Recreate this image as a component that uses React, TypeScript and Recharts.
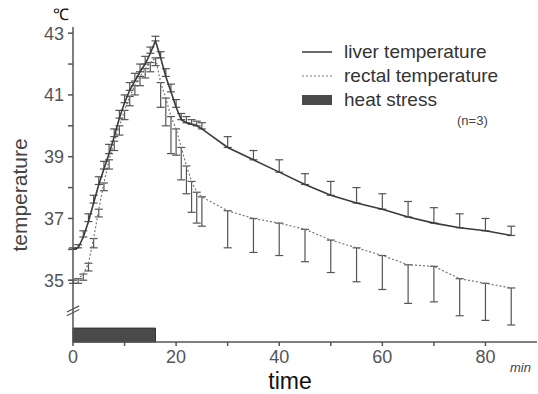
import {
  ComposedChart,
  ErrorBar,
  Line,
  ReferenceArea,
  ReferenceLine,
  XAxis,
  YAxis,
} from "recharts";

const times = [
  0, 1, 2, 3, 4, 5, 6, 7, 8, 9, 10, 11, 12, 13, 14, 15, 16, 17, 18, 19, 20, 21, 22, 23, 24, 25,
  30, 35, 40, 45, 50, 55, 60, 65, 70, 75, 80, 85,
];
const liverTemp = [
  36.0, 36.05, 36.4, 36.9, 37.5, 38.1, 38.6, 39.1, 39.65, 40.25, 40.75, 41.15, 41.45, 41.75, 42.0, 42.35, 42.75,
  42.2, 41.6, 41.1, 40.6, 40.2, 40.1, 40.05, 40.0, 39.9,
  39.3, 38.9, 38.5, 38.1, 37.75, 37.5, 37.3, 37.05, 36.85, 36.7, 36.6, 36.45,
];
const liverSd = [
  0.05, 0.1, 0.2, 0.25, 0.25, 0.25, 0.25, 0.3, 0.25, 0.25, 0.25, 0.25, 0.25, 0.25, 0.25, 0.2, 0.15,
  0.2, 0.25, 0.25, 0.25, 0.2, 0.2, 0.15, 0.15, 0.2,
  0.35, 0.3, 0.4, 0.35, 0.45, 0.5, 0.5, 0.5, 0.5, 0.45, 0.4, 0.3,
];
const rectalTemp = [
  35.0, 35.05, 35.2, 35.55, 36.35, 37.3, 38.15, 38.9, 39.5, 40.0, 40.5, 40.95, 41.3, 41.6, 41.85, 42.05, 42.2,
  41.4, 40.9, 40.3, 39.9, 39.3, 38.7, 38.2, 37.85, 37.7,
  37.25, 37.0, 36.85, 36.65, 36.3, 36.05, 35.8, 35.5, 35.45, 35.05, 34.9, 34.75,
];
const rectalSd = [
  0.1, 0.15, 0.2, 0.25, 0.3, 0.25, 0.25, 0.3, 0.3, 0.3, 0.3, 0.3, 0.3, 0.3, 0.3, 0.3, 0.25,
  0.8, 0.9, 1.2, 0.85, 1.05, 0.9, 1.0, 1.0, 0.95,
  1.2, 1.1, 1.05, 1.05, 1.05, 1.1, 1.1, 1.25, 1.15, 1.2, 1.2, 1.2,
];
const yTicks = [35, 36, 37, 38, 39, 40, 41, 42, 43];
const xTicks = [0, 10, 20, 30, 40, 50, 60, 70, 80];
const heatStress = [0, 16];

const font = "'Liberation Sans', Arial, sans-serif";
const ink = "#3a3a3a";

const data = times.map((t, i) => ({
  time: t,
  liver: liverTemp[i],
  rectal: rectalTemp[i],
  liverErr: [0, liverSd[i]],
  rectalErr: [rectalSd[i], 0],
}));

function LegendBox() {
  const row = { display: "flex", alignItems: "center", height: 24 } as const;
  const label = { marginLeft: 12, fontSize: 19, color: "#333" };
  return (
    <div style={{ position: "absolute", left: 302, top: 40, width: 236, fontFamily: font, lineHeight: "24px" }}>
      <div style={row}>
        <svg width={30} height={10}>
          <line x1={0} y1={5} x2={30} y2={5} stroke={ink} strokeWidth={1.5} />
        </svg>
        <span style={label}>liver temperature</span>
      </div>
      <div style={row}>
        <svg width={30} height={10}>
          <line x1={0} y1={5} x2={30} y2={5} stroke="#777" strokeWidth={1.2} strokeDasharray="2 2" />
        </svg>
        <span style={label}>rectal temperature</span>
      </div>
      <div style={row}>
        <svg width={30} height={10}>
          <rect x={0} y={0} width={30} height={10} fill="#4a4a4a" />
        </svg>
        <span style={label}>heat stress</span>
      </div>
      <div style={{ paddingLeft: 155, fontSize: 13, color: "#444", lineHeight: "18px" }}>(n=3)</div>
    </div>
  );
}

export default function App() {
  return (
    <div style={{ position: "absolute", left: 0, top: 0, width: 538, height: 394, background: "#fff" }}>
      <ComposedChart
        width={538}
        height={394}
        data={data}
        margin={{ top: 27, right: 1, bottom: 0, left: 0 }}
        style={{ fontFamily: font }}
      >
        <XAxis
          type="number"
          dataKey="time"
          domain={[0, 90]}
          ticks={xTicks}
          tickFormatter={(v: number) => (v % 20 === 0 ? String(v) : "")}
          height={52}
          tickSize={4}
          tickMargin={4}
          stroke="#555"
          strokeWidth={1.5}
          tick={{ fontSize: 18, fill: "#555" }}
          label={{
            content: () => (
              <text x={290} y={389} textAnchor="middle" fontSize={23} fill="#111" fontFamily={font}>
                time
              </text>
            ),
          }}
        />
        <YAxis
          type="number"
          domain={[33, 43.2]}
          ticks={yTicks}
          tickFormatter={(v: number) => (v % 2 === 1 ? String(v) : "")}
          width={73}
          tickSize={5}
          tickMargin={4}
          stroke="#555"
          strokeWidth={1.5}
          tick={{ fontSize: 18, fill: "#555" }}
          label={{
            content: () => (
              <text
                transform="translate(27,195) rotate(-90)"
                textAnchor="middle"
                fontSize={21}
                fill="#444"
                fontFamily={font}
              >
                temperature
              </text>
            ),
          }}
        />
        <ReferenceArea x1={heatStress[0]} x2={heatStress[1]} y1={33} y2={33.45} fill="#4a4a4a" fillOpacity={1} stroke="#333" />
        <ReferenceLine
          segment={[{ x: -1.2, y: 33.85 }, { x: 1.2, y: 34.05 }]}
          stroke="#555"
          strokeWidth={1.2}
          ifOverflow="visible"
        />
        <ReferenceLine
          segment={[{ x: -1.2, y: 33.97 }, { x: 1.2, y: 34.17 }]}
          stroke="#555"
          strokeWidth={1.2}
          ifOverflow="visible"
        />
        <Line
          type="linear"
          dataKey="rectal"
          stroke="#777"
          strokeWidth={1.2}
          strokeDasharray="2 2"
          dot={false}
          isAnimationActive={false}
        >
          <ErrorBar dataKey="rectalErr" stroke="#555" strokeWidth={1.2} width={4} />
        </Line>
        <Line type="linear" dataKey="liver" stroke={ink} strokeWidth={1.6} dot={false} isAnimationActive={false}>
          <ErrorBar dataKey="liverErr" stroke="#555" strokeWidth={1.2} width={4} />
        </Line>
      </ComposedChart>
      <LegendBox />
      <span style={{ position: "absolute", left: 53, top: 3, fontSize: 16, fontFamily: font, color: "#111" }}>℃</span>
      <span
        style={{ position: "absolute", left: 510, top: 360, fontSize: 13, fontFamily: font, fontStyle: "italic", color: "#444" }}
      >
        min
      </span>
    </div>
  );
}
